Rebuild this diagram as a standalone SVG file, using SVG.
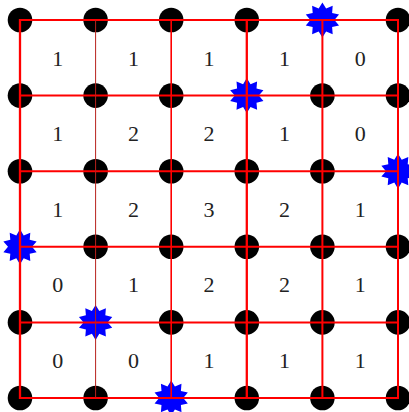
<svg xmlns="http://www.w3.org/2000/svg" xmlns:xlink="http://www.w3.org/1999/xlink" width="409" height="412" viewBox="0 0 409 412">
<style>
.pt{fill:#000}
.st{fill:#0000ff}
.ln{stroke:#ff0000;stroke-width:2;fill:none}
.thin{stroke:#b8221c;stroke-width:1}
.num{font-family:"Liberation Serif","DejaVu Serif",serif;font-size:22px;fill:#222;text-anchor:middle}
</style>
<defs>
<polygon id="star" points="0,-17.5 3.71,-11.41 10.29,-14.16 9.71,-7.05 16.64,-5.41 12,0 16.64,5.41 9.71,7.05 10.29,14.16 3.71,11.41 0,17.5 -3.71,11.41 -10.29,14.16 -9.71,7.05 -16.64,5.41 -12,0 -16.64,-5.41 -9.71,-7.05 -10.29,-14.16 -3.71,-11.41"/>
</defs>
<rect width="409" height="412" fill="#fff"/>
<g id="nodes">
<g id="p00"><circle class="pt" cx="20" cy="20" r="12.3"/></g>
<g id="p10"><circle class="pt" cx="95.6" cy="20" r="12.3"/></g>
<g id="p20"><circle class="pt" cx="171.2" cy="20" r="12.3"/></g>
<g id="p30"><circle class="pt" cx="246.8" cy="20" r="12.3"/></g>
<g id="s40"><use class="st" xlink:href="#star" href="#star" x="322.4" y="20"/></g>
<g id="p50"><circle class="pt" cx="398" cy="20" r="12.3"/></g>

<g id="p01"><circle class="pt" cx="20" cy="95.6" r="12.3"/></g>
<g id="p11"><circle class="pt" cx="95.6" cy="95.6" r="12.3"/></g>
<g id="p21"><circle class="pt" cx="171.2" cy="95.6" r="12.3"/></g>
<g id="s31"><use class="st" xlink:href="#star" href="#star" x="246.8" y="95.6"/></g>
<g id="p41"><circle class="pt" cx="322.4" cy="95.6" r="12.3"/></g>
<g id="p51"><circle class="pt" cx="398" cy="95.6" r="12.3"/></g>

<g id="p02"><circle class="pt" cx="20" cy="171.2" r="12.3"/></g>
<g id="p12"><circle class="pt" cx="95.6" cy="171.2" r="12.3"/></g>
<g id="p22"><circle class="pt" cx="171.2" cy="171.2" r="12.3"/></g>
<g id="p32"><circle class="pt" cx="246.8" cy="171.2" r="12.3"/></g>
<g id="p42"><circle class="pt" cx="322.4" cy="171.2" r="12.3"/></g>
<g id="s52"><use class="st" xlink:href="#star" href="#star" x="398" y="171.2"/></g>

<g id="s03"><use class="st" xlink:href="#star" href="#star" x="20" y="246.8"/></g>
<g id="p13"><circle class="pt" cx="95.6" cy="246.8" r="12.3"/></g>
<g id="p23"><circle class="pt" cx="171.2" cy="246.8" r="12.3"/></g>
<g id="p33"><circle class="pt" cx="246.8" cy="246.8" r="12.3"/></g>
<g id="p43"><circle class="pt" cx="322.4" cy="246.8" r="12.3"/></g>
<g id="p53"><circle class="pt" cx="398" cy="246.8" r="12.3"/></g>

<g id="p04"><circle class="pt" cx="20" cy="322.4" r="12.3"/></g>
<g id="s14"><use class="st" xlink:href="#star" href="#star" x="95.6" y="322.4"/></g>
<g id="p24"><circle class="pt" cx="171.2" cy="322.4" r="12.3"/></g>
<g id="p34"><circle class="pt" cx="246.8" cy="322.4" r="12.3"/></g>
<g id="p44"><circle class="pt" cx="322.4" cy="322.4" r="12.3"/></g>
<g id="p54"><circle class="pt" cx="398" cy="322.4" r="12.3"/></g>

<g id="p05"><circle class="pt" cx="20" cy="398" r="12.3"/></g>
<g id="p15"><circle class="pt" cx="95.6" cy="398" r="12.3"/></g>
<g id="s25"><use class="st" xlink:href="#star" href="#star" x="171.2" y="398"/></g>
<g id="p35"><circle class="pt" cx="246.8" cy="398" r="12.3"/></g>
<g id="p45"><circle class="pt" cx="322.4" cy="398" r="12.3"/></g>
<g id="p55"><circle class="pt" cx="398" cy="398" r="12.3"/></g>
</g>
<g id="connectors">
<line class="ln" x1="19" y1="20" x2="399" y2="20"/>
<line class="ln" x1="19" y1="95.6" x2="399" y2="95.6"/>
<line class="ln" x1="19" y1="171.2" x2="399" y2="171.2"/>
<line class="ln" x1="19" y1="246.8" x2="399" y2="246.8"/>
<line class="ln" x1="19" y1="322.4" x2="399" y2="322.4"/>
<line class="ln" x1="19" y1="398" x2="399" y2="398"/>
<line class="ln" style="stroke-width:2.3" x1="20" y1="19" x2="20" y2="399"/>
<line class="ln thin" x1="95.6" y1="20" x2="95.6" y2="398"/>
<line class="ln" style="stroke-width:1.6" x1="171.2" y1="20" x2="171.2" y2="398"/>
<line class="ln" style="stroke-width:2.3" x1="246.8" y1="20" x2="246.8" y2="398"/>
<line class="ln" x1="322.4" y1="20" x2="322.4" y2="398"/>
<line class="ln" x1="398" y1="19" x2="398" y2="399"/>
</g>
<g id="labels">
<text class="num" x="57.8" y="65.5">1</text><text class="num" x="133.4" y="65.5">1</text><text class="num" x="209" y="65.5">1</text><text class="num" x="284.6" y="65.5">1</text><text class="num" x="360.2" y="65.5">0</text>
<text class="num" x="57.8" y="141.1">1</text><text class="num" x="133.4" y="141.1">2</text><text class="num" x="209" y="141.1">2</text><text class="num" x="284.6" y="141.1">1</text><text class="num" x="360.2" y="141.1">0</text>
<text class="num" x="57.8" y="216.7">1</text><text class="num" x="133.4" y="216.7">2</text><text class="num" x="209" y="216.7">3</text><text class="num" x="284.6" y="216.7">2</text><text class="num" x="360.2" y="216.7">1</text>
<text class="num" x="57.8" y="292.3">0</text><text class="num" x="133.4" y="292.3">1</text><text class="num" x="209" y="292.3">2</text><text class="num" x="284.6" y="292.3">2</text><text class="num" x="360.2" y="292.3">1</text>
<text class="num" x="57.8" y="367.9">0</text><text class="num" x="133.4" y="367.9">0</text><text class="num" x="209" y="367.9">1</text><text class="num" x="284.6" y="367.9">1</text><text class="num" x="360.2" y="367.9">1</text>
</g>
</svg>
